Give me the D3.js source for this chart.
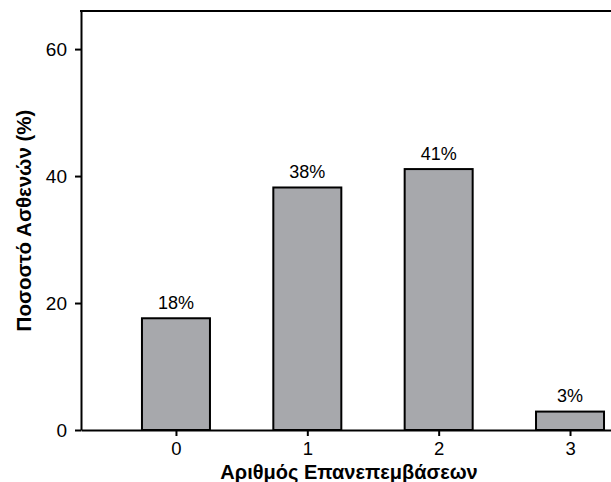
<!DOCTYPE html>
<html><head><meta charset="utf-8">
<script src="https://cdn.jsdelivr.net/npm/d3@7"></script>
<style>body{margin:0;background:#fff}svg{display:block}text{font-family:"Liberation Sans",Arial,sans-serif}</style>
</head><body>
<script>
const categories = [0, 1, 2, 3];
const values = [17.6, 38.2, 41.1, 2.9];
const valueLabels = ["18%", "38%", "41%", "3%"];
const yTicks = [0, 20, 40, 60];
const xTitle = "Αριθμός Επανεπεμβάσεων";
const yTitle = "Ποσοστό Ασθενών (%)";

const W = 611, H = 482;
const svg = d3.select("body").append("svg").attr("width", W).attr("height", H);
const x = d3.scaleLinear().domain([-0.723, 3.312]).range([81, 611]);
const y = d3.scaleLinear().domain([0, 66]).range([430, 11]);
const barW = 68;

svg.selectAll("rect.bar").data(categories).enter().append("rect")
  .attr("x", (d) => x(d) - barW / 2)
  .attr("y", (d, i) => y(values[i]))
  .attr("width", barW)
  .attr("height", (d, i) => y(0) - y(values[i]))
  .attr("fill", "#a7a8ac").attr("stroke", "#000").attr("stroke-width", 2);

svg.selectAll("text.vl").data(categories).enter().append("text")
  .attr("x", (d) => x(d)).attr("y", (d, i) => y(values[i]) - 9.5)
  .attr("text-anchor", "middle").attr("font-size", 18).text((d, i) => valueLabels[i]);

// x axis
const xa = svg.append("g").attr("transform", `translate(0,${y(0)})`)
  .call(d3.axisBottom(x).tickValues(categories).tickFormat(d3.format("d")).tickSize(6).tickSizeOuter(0).tickPadding(6));
// y axis
const ya = svg.append("g").attr("transform", `translate(${x.range()[0]},0)`)
  .call(d3.axisLeft(y).tickValues(yTicks).tickSize(6).tickSizeOuter(0).tickPadding(8));
[xa, ya].forEach(g => {
  g.select(".domain").attr("stroke", "#000").attr("stroke-width", 2);
  g.selectAll(".tick line").attr("stroke", "#000").attr("stroke-width", 2);
  g.selectAll(".tick text").attr("font-size", 19).attr("fill", "#000").style("font-family", '"Liberation Sans",Arial,sans-serif');
});
xa.selectAll(".tick text").attr("font-size", 18.5);
// top spine
svg.append("line").attr("x1", x.range()[0] - 1).attr("x2", W).attr("y1", y.range()[1]).attr("y2", y.range()[1])
  .attr("stroke", "#000").attr("stroke-width", 2);

svg.append("text").attr("x", 349).attr("y", 479).attr("text-anchor", "middle")
  .attr("font-size", 20).attr("font-weight", "bold").text(xTitle);
svg.append("text").attr("transform", `translate(31,${(y.range()[0] + y.range()[1]) / 2}) rotate(-90)`)
  .attr("text-anchor", "middle").attr("font-size", 20.5).attr("font-weight", "bold").text(yTitle);
</script>
</body></html>
